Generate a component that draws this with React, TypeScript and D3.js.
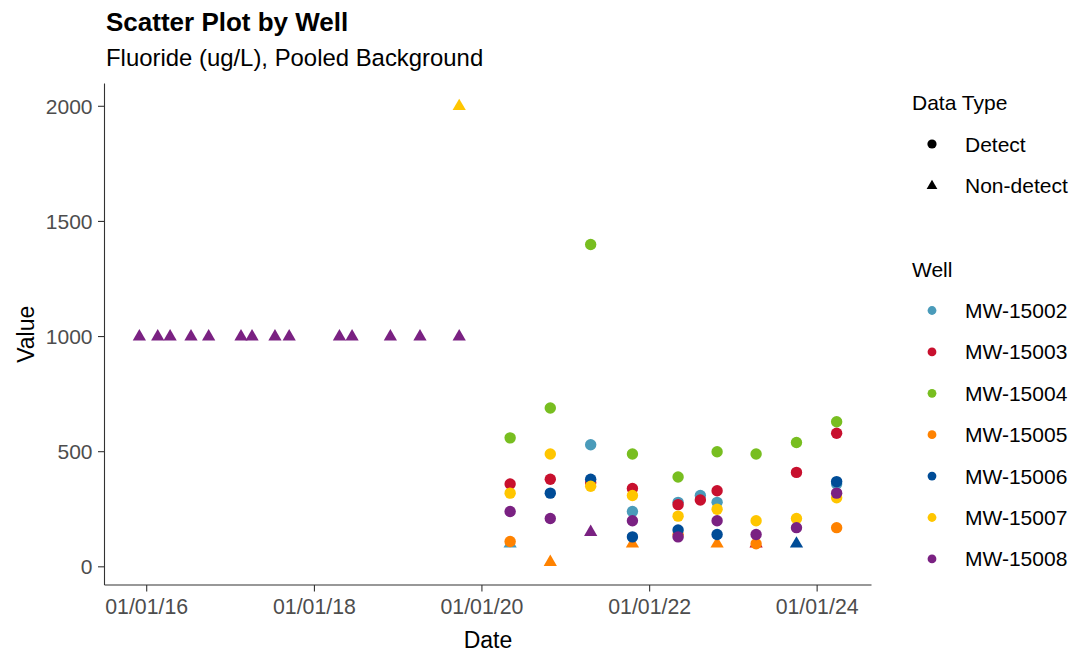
import React from "react";
import * as d3 from "d3";

type Obs = [string, number, boolean]; // date, value, non-detect

const wells = ["MW-15002", "MW-15003", "MW-15004", "MW-15005", "MW-15006", "MW-15007", "MW-15008"];
const wellColors = ["#4A9BBA", "#C8102E", "#78BE20", "#FF8200", "#004C97", "#FFC600", "#7A2182"];

const mw15002: Obs[] = [
  ["2020-05-03", 100, true], ["2021-04-19", 530, false], ["2021-10-18", 240, false],
  ["2022-05-05", 280, false], ["2022-08-10", 310, false], ["2022-10-22", 280, false],
  ["2024-03-26", 360, false],
];
const mw15003: Obs[] = [
  ["2020-05-03", 360, false], ["2020-10-25", 380, false], ["2021-04-19", 365, false],
  ["2021-10-18", 340, false], ["2022-05-05", 270, false], ["2022-08-10", 290, false],
  ["2022-10-22", 330, false], ["2023-04-10", 100, true], ["2023-10-03", 410, false],
  ["2024-03-26", 580, false],
];
const mw15004: Obs[] = [
  ["2020-05-03", 560, false], ["2020-10-25", 690, false], ["2021-04-19", 1400, false],
  ["2021-10-18", 490, false], ["2022-05-05", 390, false], ["2022-10-22", 500, false],
  ["2023-04-10", 490, false], ["2023-10-03", 540, false], ["2024-03-26", 630, false],
];
const mw15005: Obs[] = [
  ["2020-05-03", 110, false], ["2020-10-25", 20, true], ["2021-10-18", 100, true],
  ["2022-05-05", 140, false], ["2022-10-22", 100, true], ["2023-04-10", 100, false],
  ["2024-03-26", 170, false],
];
const mw15006: Obs[] = [
  ["2020-10-25", 320, false], ["2021-04-19", 380, false], ["2021-10-18", 130, false],
  ["2022-05-05", 160, false], ["2022-10-22", 140, false], ["2023-10-03", 100, true],
  ["2024-03-26", 370, false],
];
const mw15007: Obs[] = [
  ["2019-09-24", 2000, true], ["2020-05-03", 320, false], ["2020-10-25", 490, false],
  ["2021-04-19", 350, false], ["2021-10-18", 310, false], ["2022-05-05", 220, false],
  ["2022-10-22", 250, false], ["2023-04-10", 200, false], ["2023-10-03", 210, false],
  ["2024-03-26", 300, false],
];
const mw15008: Obs[] = [
  ["2015-11-30", 1000, true], ["2016-02-18", 1000, true], ["2016-04-12", 1000, true],
  ["2016-07-12", 1000, true], ["2016-09-27", 1000, true], ["2017-02-15", 1000, true],
  ["2017-04-04", 1000, true], ["2017-07-13", 1000, true], ["2017-09-13", 1000, true],
  ["2018-04-20", 1000, true], ["2018-06-14", 1000, true], ["2018-11-28", 1000, true],
  ["2019-04-06", 1000, true], ["2019-09-24", 1000, true],
  ["2020-05-03", 240, false], ["2020-10-25", 210, false], ["2021-04-19", 150, true],
  ["2021-10-18", 200, false], ["2022-05-05", 130, false], ["2022-10-22", 200, false],
  ["2023-04-10", 140, false], ["2023-10-03", 170, false], ["2024-03-26", 320, false],
];
const wellData: Obs[][] = [mw15002, mw15003, mw15004, mw15005, mw15006, mw15007, mw15008];

const yTicks = [0, 500, 1000, 1500, 2000];
const xTicks = ["2016-01-01", "2018-01-01", "2020-01-01", "2022-01-01", "2024-01-01"];
const dataTypes = ["Detect", "Non-detect"];

const W = 1076, H = 654;
const FONT = "'Liberation Sans', Arial, sans-serif";
const parse = d3.timeParse("%Y-%m-%d");
const fmt = d3.timeFormat("%m/%d/%y");

export default function App() {
  const left = 104.5, right = 871.5, top = 83.5, bottom = 585;
  const all = wellData.flat();
  const dates = all.map((d) => parse(d[0])!.getTime());
  const vals = all.map((d) => d[1]);
  const [dMin, dMax] = d3.extent(dates) as [number, number];
  const [vMin, vMax] = d3.extent(vals) as [number, number];
  const dPad = (dMax - dMin) * 0.05, vPad = (vMax - vMin) * 0.05;
  const x = d3.scaleTime().domain([new Date(dMin - dPad), new Date(dMax + dPad)]).range([left, right]);
  const y = d3.scaleLinear().domain([vMin - vPad, vMax + vPad]).range([bottom, top]);
  const tri = d3.symbol().type(d3.symbolTriangle).size(76)()!;
  const triSmall = d3.symbol().type(d3.symbolTriangle).size(50)()!;
  const axisCol = "#333333";
  const tickCol = "#4D4D4D";

  return (
    <svg width={W} height={H} style={{ position: "absolute", left: 0, top: 0, background: "#fff" }} fontFamily={FONT}>
      <rect width={W} height={H} fill="#fff" />
      <text x={106} y={31} fontSize={26} fontWeight="bold">Scatter Plot by Well</text>
      <text x={106} y={66} fontSize={23.9}>Fluoride (ug/L), Pooled Background</text>

      {/* axes */}
      <line x1={left} x2={left} y1={top} y2={bottom} stroke={axisCol} strokeWidth={1.1} />
      <line x1={left} x2={right} y1={bottom} y2={bottom} stroke={axisCol} strokeWidth={1.1} />
      {yTicks.map((t) => (
        <g key={t}>
          <line x1={left - 6.5} x2={left} y1={y(t)} y2={y(t)} stroke={axisCol} strokeWidth={1.1} />
          <text x={left - 12} y={y(t) + 7.5} textAnchor="end" fontSize={21} fill={tickCol}>{t}</text>
        </g>
      ))}
      {xTicks.map((t) => {
        const xv = x(parse(t)!);
        return (
          <g key={t}>
            <line x1={xv} x2={xv} y1={bottom} y2={bottom + 6.5} stroke={axisCol} strokeWidth={1.1} />
            <text x={xv} y={bottom + 29} textAnchor="middle" fontSize={21.3} fill={tickCol}>{fmt(parse(t)!)}</text>
          </g>
        );
      })}
      <text x={(left + right) / 2} y={648} textAnchor="middle" fontSize={23}>Date</text>
      <text transform={`translate(34,${(top + bottom) / 2}) rotate(-90)`} textAnchor="middle" fontSize={23}>Value</text>

      {/* points */}
      {wellData.map((arr, wi) =>
        arr.map((d, i) => {
          const px = x(parse(d[0])!), py = y(d[1]);
          return d[2] ? (
            <path key={`${wi}-${i}`} d={tri} transform={`translate(${px},${py})`} fill={wellColors[wi]} />
          ) : (
            <circle key={`${wi}-${i}`} cx={px} cy={py} r={5.7} fill={wellColors[wi]} />
          );
        })
      )}

      {/* legend: data type */}
      <text x={912} y={110} fontSize={21}>Data Type</text>
      {dataTypes.map((t, i) => {
        const cy = 144 + i * 41.5;
        return (
          <g key={t}>
            {i === 0 ? <circle cx={932} cy={cy} r={4.6} fill="#000" /> : <path d={triSmall} transform={`translate(932,${cy + 0.5})`} fill="#000" />}
            <text x={965} y={cy + 7.5} fontSize={21}>{t}</text>
          </g>
        );
      })}

      {/* legend: well */}
      <text x={912} y={277} fontSize={21}>Well</text>
      {wells.map((w, i) => {
        const cy = 310.5 + i * 41.4;
        return (
          <g key={w}>
            <circle cx={932} cy={cy} r={4.4} fill={wellColors[i]} />
            <text x={965} y={cy + 7.5} fontSize={21}>{w}</text>
          </g>
        );
      })}
    </svg>
  );
}
